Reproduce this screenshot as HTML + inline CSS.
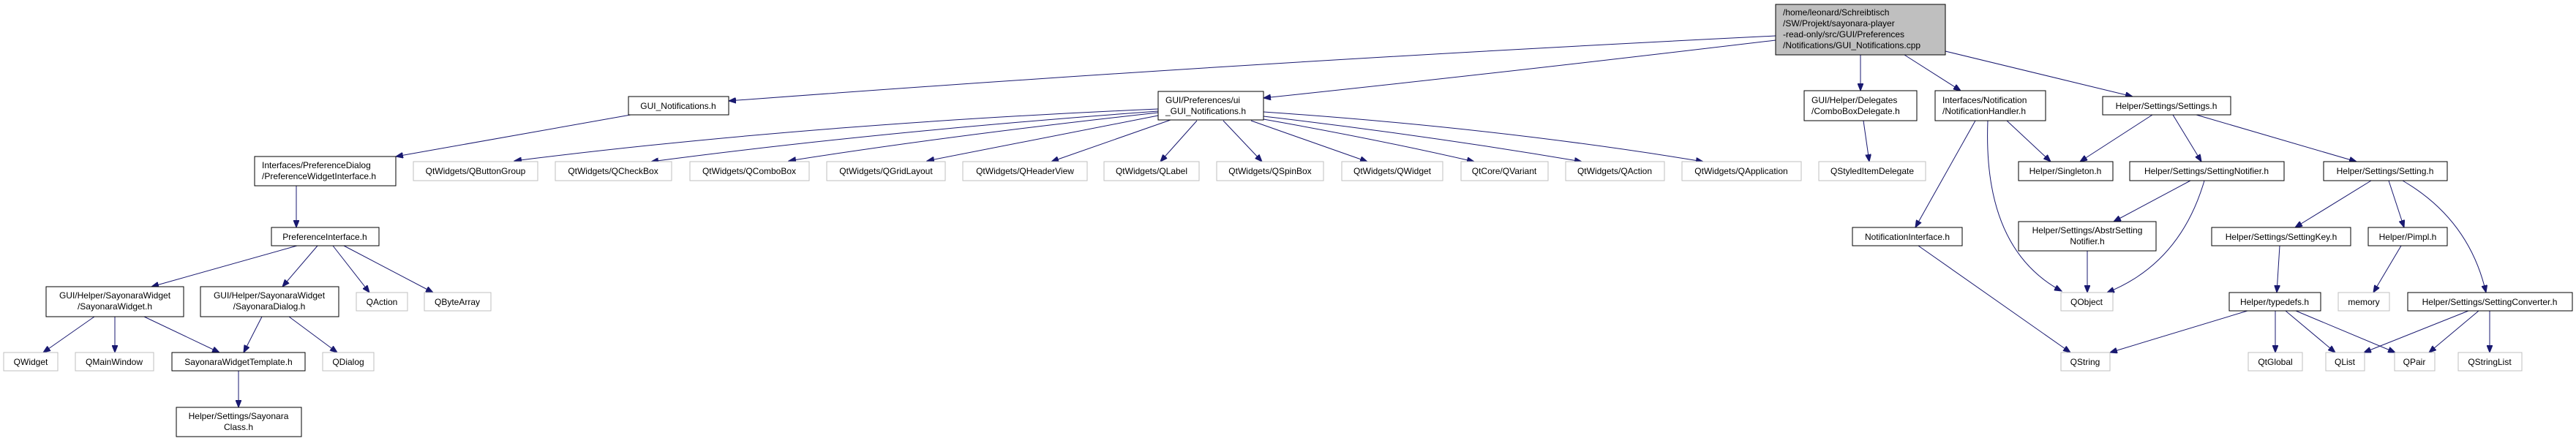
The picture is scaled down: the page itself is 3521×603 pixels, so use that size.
<!DOCTYPE html>
<html><head><meta charset="utf-8"><style>
html,body{margin:0;padding:0;background:#fff}
svg{display:block}
text{font-family:"Liberation Sans",sans-serif;font-size:12px;fill:#000}
.n{fill:#fff;stroke:#000;stroke-width:1}
.g{fill:#fff;stroke:#bfbfbf;stroke-width:1}
.e{fill:none;stroke:#191970;stroke-width:1}
</style></head><body>
<svg width="3521" height="603" viewBox="0 0 3521 603" xmlns="http://www.w3.org/2000/svg">
<defs><marker id="a" markerUnits="userSpaceOnUse" markerWidth="11" markerHeight="8" refX="10" refY="4" orient="auto"><path d="M0,0 L10,4 L0,8 z" fill="#191970" stroke="#191970"/></marker></defs>
<g marker-end="url(#a)">
<path class="e" d="M2427,49 Q1700,85 996,138"/>
<path class="e" d="M2427,55 Q2050,100 1727,134"/>
<path class="e" d="M2543,75 L2543,124"/>
<path class="e" d="M2603,75 L2680,124"/>
<path class="e" d="M2659,70 L2915,132"/>
<path class="e" d="M862,157 L541,214"/>
<path class="e" d="M1583,149 Q1100,170 703,220"/>
<path class="e" d="M1583,152 Q1200,180 890,221"/>
<path class="e" d="M1583,154 Q1300,185 1078,220"/>
<path class="e" d="M1583,158 Q1420,190 1267,220"/>
<path class="e" d="M1600,164 L1437,221"/>
<path class="e" d="M1636,165 L1586,221"/>
<path class="e" d="M1672,165 L1725,221"/>
<path class="e" d="M1710,165 L1869,221"/>
<path class="e" d="M1727,163 Q1880,190 2015,221"/>
<path class="e" d="M1727,159 Q1950,185 2162,221"/>
<path class="e" d="M1727,153 Q2050,175 2328,221"/>
<path class="e" d="M2547,165 L2555,221"/>
<path class="e" d="M2700,165 L2618,311"/>
<path class="e" d="M2743,165 L2803,221"/>
<path class="e" d="M2717,165 Q2710,340 2818,398"/>
<path class="e" d="M2622,336 L2830,482"/>
<path class="e" d="M2942,157 L2843,221"/>
<path class="e" d="M2970,157 L3009,221"/>
<path class="e" d="M3002,157 L3221,221"/>
<path class="e" d="M2994,247 L2889,303"/>
<path class="e" d="M3013,247 Q2980,360 2880,400"/>
<path class="e" d="M2853,343 L2853,400"/>
<path class="e" d="M3241,247 L3137,311"/>
<path class="e" d="M3265,247 L3286,311"/>
<path class="e" d="M3284,247 Q3375,300 3398,400"/>
<path class="e" d="M3116,336 L3112,400"/>
<path class="e" d="M3282,336 L3244,400"/>
<path class="e" d="M3072,425 L2884,482"/>
<path class="e" d="M3110,425 L3110,482"/>
<path class="e" d="M3124,425 L3192,482"/>
<path class="e" d="M3138,425 L3274,482"/>
<path class="e" d="M3374,425 L3231,482"/>
<path class="e" d="M3388,425 L3320,482"/>
<path class="e" d="M3403,425 L3403,482"/>
<path class="e" d="M405,254 L405,311"/>
<path class="e" d="M406,336 L207,392"/>
<path class="e" d="M434,336 L386,392"/>
<path class="e" d="M455,336 L505,400"/>
<path class="e" d="M470,336 L592,400"/>
<path class="e" d="M129,433 L59,482"/>
<path class="e" d="M157,433 L157,482"/>
<path class="e" d="M197,433 L300,482"/>
<path class="e" d="M358,433 L333,482"/>
<path class="e" d="M395,433 L461,482"/>
<path class="e" d="M326,507 L326,557"/>
</g>
<!-- root -->
<rect x="2427" y="6" width="232" height="69" fill="#bfbfbf" stroke="#000"/>
<text x="2437" y="21">/home/leonard/Schreibtisch</text>
<text x="2437" y="36">/SW/Projekt/sayonara-player</text>
<text x="2437" y="51">-read-only/src/GUI/Preferences</text>
<text x="2437" y="66">/Notifications/GUI_Notifications.cpp</text>
<!-- row 2 -->
<rect class="n" x="859" y="132" width="137" height="25"/><text x="927" y="149" text-anchor="middle">GUI_Notifications.h</text>
<rect class="n" x="1583" y="125" width="144" height="39"/><text x="1593" y="141">GUI/Preferences/ui</text><text x="1593" y="156">_GUI_Notifications.h</text>
<rect class="n" x="2466" y="124" width="154" height="41"/><text x="2476" y="141">GUI/Helper/Delegates</text><text x="2476" y="156">/ComboBoxDelegate.h</text>
<rect class="n" x="2645" y="124" width="151" height="41"/><text x="2655" y="141">Interfaces/Notification</text><text x="2655" y="156">/NotificationHandler.h</text>
<rect class="n" x="2874" y="132" width="175" height="25"/><text x="2961" y="149" text-anchor="middle">Helper/Settings/Settings.h</text>
<!-- row 3 -->
<rect class="n" x="348" y="214" width="193" height="40"/><text x="358" y="230">Interfaces/PreferenceDialog</text><text x="358" y="245">/PreferenceWidgetInterface.h</text>
<rect class="g" x="565" y="221" width="170" height="26"/><text x="650" y="238" text-anchor="middle">QtWidgets/QButtonGroup</text>
<rect class="g" x="759" y="221" width="159" height="26"/><text x="838" y="238" text-anchor="middle">QtWidgets/QCheckBox</text>
<rect class="g" x="943" y="221" width="163" height="26"/><text x="1024" y="238" text-anchor="middle">QtWidgets/QComboBox</text>
<rect class="g" x="1130" y="221" width="162" height="26"/><text x="1211" y="238" text-anchor="middle">QtWidgets/QGridLayout</text>
<rect class="g" x="1316" y="221" width="170" height="26"/><text x="1401" y="238" text-anchor="middle">QtWidgets/QHeaderView</text>
<rect class="g" x="1509" y="221" width="130" height="26"/><text x="1574" y="238" text-anchor="middle">QtWidgets/QLabel</text>
<rect class="g" x="1663" y="221" width="146" height="26"/><text x="1736" y="238" text-anchor="middle">QtWidgets/QSpinBox</text>
<rect class="g" x="1834" y="221" width="138" height="26"/><text x="1903" y="238" text-anchor="middle">QtWidgets/QWidget</text>
<rect class="g" x="1997" y="221" width="119" height="26"/><text x="2056" y="238" text-anchor="middle">QtCore/QVariant</text>
<rect class="g" x="2140" y="221" width="135" height="26"/><text x="2207" y="238" text-anchor="middle">QtWidgets/QAction</text>
<rect class="g" x="2299" y="221" width="163" height="26"/><text x="2380" y="238" text-anchor="middle">QtWidgets/QApplication</text>
<rect class="g" x="2486" y="221" width="146" height="26"/><text x="2559" y="238" text-anchor="middle">QStyledItemDelegate</text>
<rect class="n" x="2759" y="221" width="129" height="26"/><text x="2823" y="238" text-anchor="middle">Helper/Singleton.h</text>
<rect class="n" x="2911" y="221" width="211" height="26"/><text x="3016" y="238" text-anchor="middle">Helper/Settings/SettingNotifier.h</text>
<rect class="n" x="3176" y="221" width="169" height="26"/><text x="3260" y="238" text-anchor="middle">Helper/Settings/Setting.h</text>
<!-- row 4 -->
<rect class="n" x="371" y="311" width="147" height="25"/><text x="444" y="328" text-anchor="middle">PreferenceInterface.h</text>
<rect class="n" x="2532" y="311" width="150" height="25"/><text x="2607" y="328" text-anchor="middle">NotificationInterface.h</text>
<rect class="n" x="2759" y="303" width="188" height="40"/><text x="2853" y="319" text-anchor="middle">Helper/Settings/AbstrSetting</text><text x="2853" y="334" text-anchor="middle">Notifier.h</text>
<rect class="n" x="3023" y="311" width="190" height="25"/><text x="3118" y="328" text-anchor="middle">Helper/Settings/SettingKey.h</text>
<rect class="n" x="3237" y="311" width="108" height="25"/><text x="3291" y="328" text-anchor="middle">Helper/Pimpl.h</text>
<!-- row 5 -->
<rect class="n" x="63" y="392" width="188" height="41"/><text x="157" y="408" text-anchor="middle">GUI/Helper/SayonaraWidget</text><text x="157" y="423" text-anchor="middle">/SayonaraWidget.h</text>
<rect class="n" x="274" y="392" width="189" height="41"/><text x="368" y="408" text-anchor="middle">GUI/Helper/SayonaraWidget</text><text x="368" y="423" text-anchor="middle">/SayonaraDialog.h</text>
<rect class="g" x="487" y="400" width="70" height="25"/><text x="522" y="417" text-anchor="middle">QAction</text>
<rect class="g" x="580" y="400" width="91" height="25"/><text x="625" y="417" text-anchor="middle">QByteArray</text>
<rect class="g" x="2817" y="400" width="71" height="25"/><text x="2852" y="417" text-anchor="middle">QObject</text>
<rect class="n" x="3047" y="400" width="125" height="25"/><text x="3109" y="417" text-anchor="middle">Helper/typedefs.h</text>
<rect class="g" x="3196" y="400" width="70" height="25"/><text x="3231" y="417" text-anchor="middle">memory</text>
<rect class="n" x="3291" y="400" width="225" height="25"/><text x="3403" y="417" text-anchor="middle">Helper/Settings/SettingConverter.h</text>
<!-- row 6 -->
<rect class="g" x="5" y="482" width="74" height="25"/><text x="42" y="499" text-anchor="middle">QWidget</text>
<rect class="g" x="103" y="482" width="107" height="25"/><text x="156" y="499" text-anchor="middle">QMainWindow</text>
<rect class="n" x="235" y="482" width="182" height="25"/><text x="326" y="499" text-anchor="middle">SayonaraWidgetTemplate.h</text>
<rect class="g" x="441" y="482" width="70" height="25"/><text x="476" y="499" text-anchor="middle">QDialog</text>
<rect class="g" x="2817" y="482" width="67" height="25"/><text x="2850" y="499" text-anchor="middle">QString</text>
<rect class="g" x="3073" y="482" width="74" height="25"/><text x="3110" y="499" text-anchor="middle">QtGlobal</text>
<rect class="g" x="3179" y="482" width="53" height="25"/><text x="3205" y="499" text-anchor="middle">QList</text>
<rect class="g" x="3273" y="482" width="55" height="25"/><text x="3300" y="499" text-anchor="middle">QPair</text>
<rect class="g" x="3360" y="482" width="87" height="25"/><text x="3403" y="499" text-anchor="middle">QStringList</text>
<!-- row 7 -->
<rect class="n" x="241" y="557" width="171" height="40"/><text x="326" y="573" text-anchor="middle">Helper/Settings/Sayonara</text><text x="326" y="588" text-anchor="middle">Class.h</text>
</svg>
</body></html>
